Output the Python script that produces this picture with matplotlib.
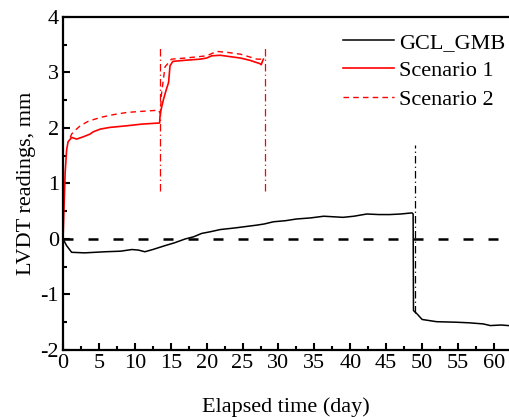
import matplotlib
matplotlib.use("Agg")
import matplotlib.pyplot as plt
from matplotlib.ticker import MultipleLocator

plt.rcParams['font.family'] = ['Liberation Serif', 'DejaVu Serif']
plt.rcParams['axes.unicode_minus'] = False

# GCL_GMB reference reading
gcl_t = [0, 0.5, 1.2, 3.0, 5.9, 8.0, 9.6, 10.5, 11.4, 12.5, 14.2, 15.5, 17.0,
         18.2, 19.3, 20.5, 21.9, 24.0, 27.0, 28.0, 29.3, 31.0, 32.5, 34.5,
         36.3, 39.0, 40.5, 42.3, 44.0, 45.5, 47.0, 48.6, 48.75, 48.8, 49.3,
         50.0, 52.0, 54.8, 56.5, 58.5, 59.5, 61.0, 62.0]
gcl_v = [0.0, -0.12, -0.24, -0.25, -0.23, -0.22, -0.19, -0.2, -0.23, -0.19,
         -0.12, -0.07, 0.0, 0.04, 0.1, 0.13, 0.17, 0.2, 0.25, 0.27, 0.31,
         0.33, 0.36, 0.38, 0.41, 0.39, 0.41, 0.45, 0.44, 0.44, 0.45, 0.47,
         0.45, -1.29, -1.35, -1.45, -1.49, -1.5, -1.51, -1.53, -1.56, -1.55,
         -1.56]

# Scenario 1
s1_t = [0, 0.15, 0.3, 0.5, 0.7, 1.2, 1.9, 2.8, 3.76, 4.2, 5.2, 6.5, 8.9,
        11.0, 13.45, 13.5, 13.6, 14.0, 14.4, 14.7, 14.9, 15.3, 17.0, 19.1,
        20.0, 20.7, 21.9, 23.0, 24.7, 26.0, 27.4, 27.6, 27.8, 27.9]
s1_v = [0.0, 0.6, 1.2, 1.6, 1.75, 1.83, 1.80, 1.84, 1.89, 1.93, 1.98, 2.01,
        2.04, 2.07, 2.09, 2.2, 2.3, 2.52, 2.7, 2.82, 3.12, 3.2, 3.22, 3.24,
        3.26, 3.3, 3.31, 3.29, 3.26, 3.22, 3.16, 3.14, 3.21, 3.24]

# Scenario 2
s2_t = [1.0, 1.2, 1.8, 2.4, 3.5, 5.2, 7.0, 8.9, 11.0, 13.3, 13.55, 13.7,
        14.2, 15.1, 17.0, 20.0, 21.4, 23.0, 24.7, 27.0, 27.6, 27.9]
s2_v = [1.83, 1.89, 1.97, 2.04, 2.12, 2.19, 2.24, 2.28, 2.30, 2.32, 2.26,
        2.6, 3.1, 3.24, 3.26, 3.30, 3.38, 3.36, 3.33, 3.24, 3.24, 3.30]

# stage boundaries (day) and their vertical extents (mm)
red_marks = [13.5, 28.1]
red_span = [0.87, 3.48]
black_mark = 49.0
black_span = [-1.33, 1.70]

fig = plt.figure(figsize=(5.09, 4.17), dpi=100)
ax = fig.add_axes([0.1238, 0.1607, 0.8762, 0.7986])

ax.axhline(0, color='black', lw=1.8, linestyle=(0, (4, 6)), zorder=1)
for xm in red_marks:
    ax.plot([xm, xm], red_span, color='red', lw=0.9,
            linestyle=(0, (6, 2.5, 1, 2.5)))
ax.plot([black_mark, black_mark], black_span, color='black', lw=0.9,
        linestyle=(0, (6, 2.5, 1, 2.5)))

ax.plot(gcl_t, gcl_v, color='black', lw=1.1, label='GCL_GMB')
ax.plot(s1_t, s1_v, color='red', lw=1.2, label='Scenario 1')
ax.plot(s2_t, s2_v, color='red', lw=1.0, linestyle=(0, (4, 3)),
        label='Scenario 2')

ax.set_xlim(0, 62.1)
ax.set_ylim(-2, 4)
ax.xaxis.set_major_locator(MultipleLocator(5))
ax.xaxis.set_minor_locator(MultipleLocator(2.5))
ax.yaxis.set_major_locator(MultipleLocator(1))
ax.yaxis.set_minor_locator(MultipleLocator(0.5))
ax.tick_params(which='both', direction='in', top=False, right=False,
               labelsize=16, width=1.5, pad=3)
ax.tick_params(which='major', length=5)
ax.tick_params(which='minor', length=3)
for side in ['left', 'bottom', 'top']:
    ax.spines[side].set_linewidth(1.6)
ax.spines['right'].set_visible(False)

ax.set_xlabel('Elapsed time (day)', fontsize=16, labelpad=17)
ax.set_ylabel('LVDT readings, mm', fontsize=16, labelpad=3)

ax.legend(loc='upper left', bbox_to_anchor=(0.628, 0.954), frameon=False,
          fontsize=16, handlelength=2.3, handletextpad=0.2,
          labelspacing=0.35, borderpad=0, borderaxespad=0)

fig.savefig('out.png', dpi=100)
